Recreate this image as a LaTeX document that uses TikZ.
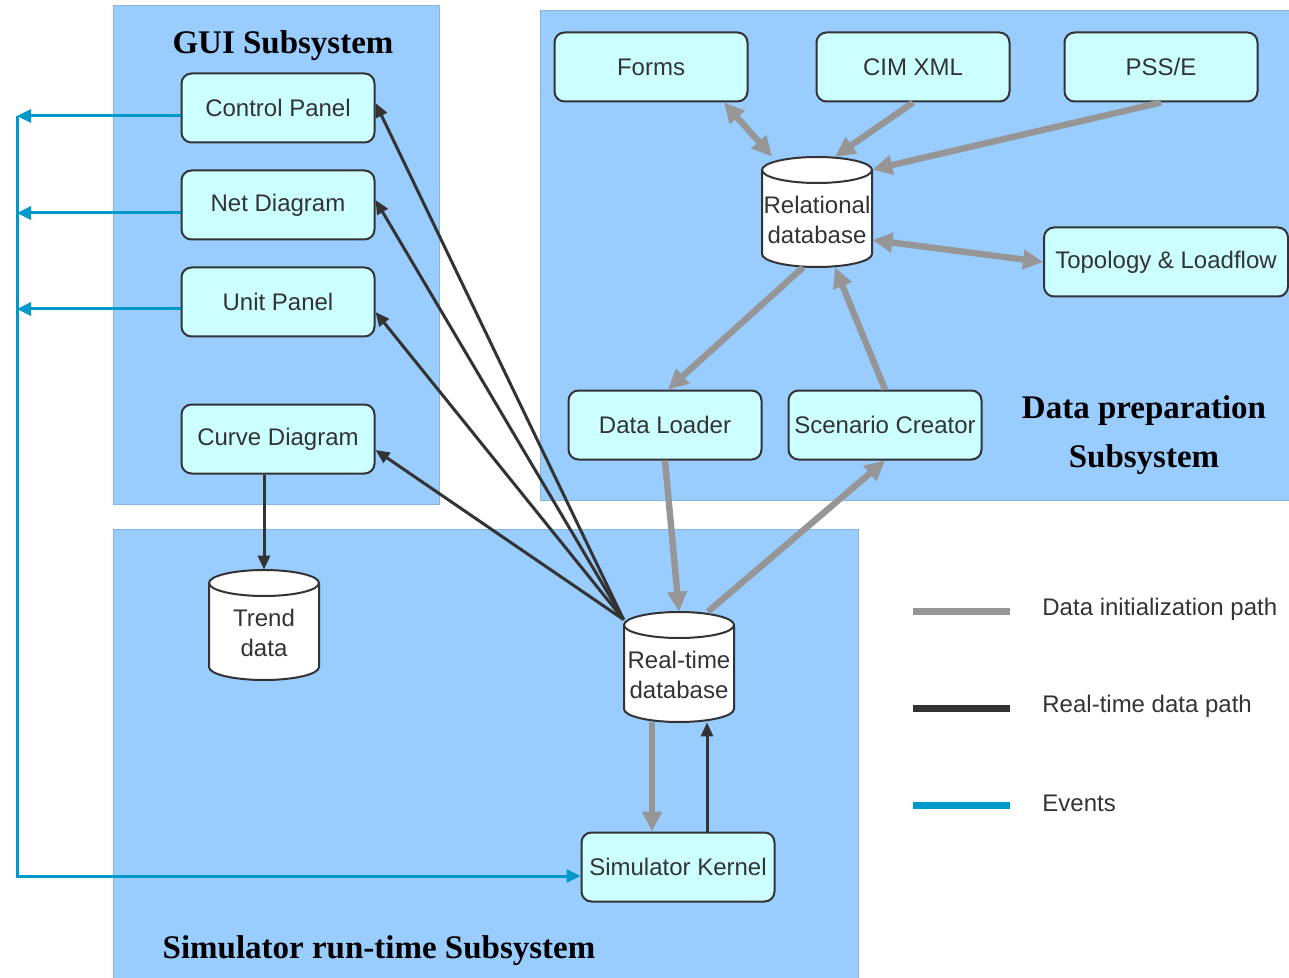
\documentclass[tikz,border=0pt]{standalone}
\usepackage{fontspec}
\setmainfont{Liberation Sans}
\newfontfamily\titlefont{Liberation Serif}
\usetikzlibrary{arrows.meta,calc}

\definecolor{panelblue}{HTML}{99CCFF}
\definecolor{paneledge}{HTML}{86B6E6}
\definecolor{boxfill}{HTML}{CCFFFF}
\definecolor{edgegray}{HTML}{333333}
\definecolor{initgray}{HTML}{969696}
\definecolor{rtblack}{HTML}{333333}
\definecolor{evblue}{HTML}{0099CC}

% database cylinder: name, centre x, centre y (downwards), text
\newcommand\dbcylinder[4]{%
  \path[fill=white,draw=edgegray,line width=1pt]
    (#2-55,-#3+42) -- (#2-55,-#3-42)
    arc[start angle=180,end angle=360,x radius=27.5pt,y radius=6.5pt]
    -- (#2+55,-#3+42)
    arc[start angle=0,end angle=180,x radius=27.5pt,y radius=6.5pt] -- cycle;
  \draw[edgegray,line width=1pt] (#2-55,-#3+42)
    arc[start angle=180,end angle=360,x radius=27.5pt,y radius=6.5pt];
  \node[dbbox] (#1) at (#2,-#3) {};
  \node[dbtext] (#1-label) at (#2,-#3-8) {#4};
}

\begin{document}
\begin{tikzpicture}[x=0.5pt,y=0.5pt,
  panel/.style={fill=panelblue,draw=paneledge,line width=0.4pt},
  module/.style={draw=edgegray,fill=boxfill,rounded corners=5pt,line width=1pt,
    minimum width=96.5pt,minimum height=34.5pt,inner sep=1pt,
    font=\fontsize{12}{15}\selectfont,text=black!80},
  dbbox/.style={minimum width=55pt,minimum height=55pt,inner sep=0pt},
  dbtext/.style={align=center,inner sep=0pt,font=\fontsize{12}{15}\selectfont,text=black!80},
  title/.style={font=\titlefont\bfseries\fontsize{16.5}{24.5}\selectfont,align=center,text=black},
  legtext/.style={anchor=west,inner sep=0pt,font=\fontsize{12}{15}\selectfont,text=black!80},
  init/.style={draw=initgray,line width=3.2pt,-{Triangle[length=10pt,width=9.5pt]}},
  initboth/.style={init,{Triangle[length=10pt,width=9.5pt]}-{Triangle[length=10pt,width=9.5pt]}},
  rt/.style={draw=rtblack,line width=1.5pt,-{Triangle[length=7pt,width=6pt]}},
  ev/.style={draw=evblue,line width=1.5pt,-{Triangle[length=7pt,width=6.5pt]}},
  legline/.style={line width=3.5pt}
]
\useasboundingbox (0,0) rectangle (1289,-978);

% subsystem panels
\path[panel] (113,-5) rectangle (439,-504);
\path[panel] (540,-10) rectangle (1295,-500);
\path[panel] (113,-529) rectangle (858,-985);

% titles
\node[title] (guititle) at (283,-46) {GUI Subsystem};
\node[title] (preptitle) at (1144,-435) {Data preparation\\Subsystem};
\node[title] (simtitle) at (379,-951) {Simulator run-time Subsystem};

% GUI modules
\node[module] (ctrl) at (278,-108) {Control Panel};
\node[module] (net) at (278,-205) {Net Diagram};
\node[module] (unit) at (278,-302) {Unit Panel};
\node[module] (curve) at (278,-439) {Curve Diagram};

% data preparation modules
\node[module] (forms) at (651,-67) {Forms};
\node[module] (cim) at (913,-67) {CIM XML};
\node[module] (psse) at (1161,-67) {PSS/E};
\node[module,anchor=west,minimum width=122pt] (topo) at (1043,-262) {Topology \& Loadflow};
\node[module] (loader) at (665,-425) {Data Loader};
\node[module] (scen) at (885,-425) {Scenario Creator};

% run-time modules
\node[module] (kernel) at (678,-867) {Simulator Kernel};

% databases
\dbcylinder{rdb}{817}{212}{Relational\\database}
\dbcylinder{trend}{264}{625}{Trend\\data}
\dbcylinder{rtdb}{679}{667}{Real-time\\database}

% data initialization paths
\draw[initboth] ([xshift=36.5pt]forms.south) -- ([xshift=-22.5pt]rdb.north);
\draw[init] (cim.south) -- ([xshift=9pt]rdb.north);
\draw[init] (psse.south) -- ([yshift=-6.5pt]rdb.north east);
\draw[initboth] ([yshift=-14pt]rdb.east) -- (topo.west);
\draw[init] ([xshift=-7pt]rdb.south) -- ([xshift=1.5pt]loader.north);
\draw[init] (scen.north) -- ([xshift=9pt]rdb.south);
\draw[init] (loader.south) -- (rtdb.north);
\draw[init] ([xshift=14.5pt]rtdb.north) -- (scen.south);
\draw[init] ([xshift=-13.5pt]rtdb.south) -- ([xshift=-13.5pt]rtdb.south |- kernel.north);

% real-time data paths
\draw[rt] ([xshift=14.5pt]kernel.north) -- ([xshift=14.5pt]kernel.north |- rtdb.south);
\coordinate (fan) at ([yshift=-4pt]rtdb.north west);
\draw[rt] (fan) -- ([yshift=2.5pt]ctrl.east);
\draw[rt] (fan) -- ([yshift=2.5pt]net.east);
\draw[rt] (fan) -- ([yshift=-5pt]unit.east);
\draw[rt] (fan) -- ([yshift=-5.5pt]curve.east);
\draw[rt] (trend.north |- curve.south) -- (trend.north);

% events
\coordinate (bustop) at (17,-116);
\draw[ev] ([yshift=-4pt]ctrl.west) -- ([yshift=-4pt]ctrl.west -| bustop);
\draw[ev] ([yshift=-4pt]net.west) -- ([yshift=-4pt]net.west -| bustop);
\draw[ev] ([yshift=-3.5pt]unit.west) -- ([yshift=-3.5pt]unit.west -| bustop);
\draw[ev] (bustop) |- ([yshift=-4.5pt]kernel.west);

% legend
\draw[legline,initgray] (913,-611) -- (1010,-611);
\draw[legline,rtblack] (913,-708) -- (1010,-708);
\draw[legline,evblue] (913,-805) -- (1010,-805);
\node[legtext] (leginit) at (1042,-609) {Data initialization path};
\node[legtext] (legrt) at (1042,-706) {Real-time data path};
\node[legtext] (legev) at (1042,-803) {Events};
\end{tikzpicture}
\end{document}
